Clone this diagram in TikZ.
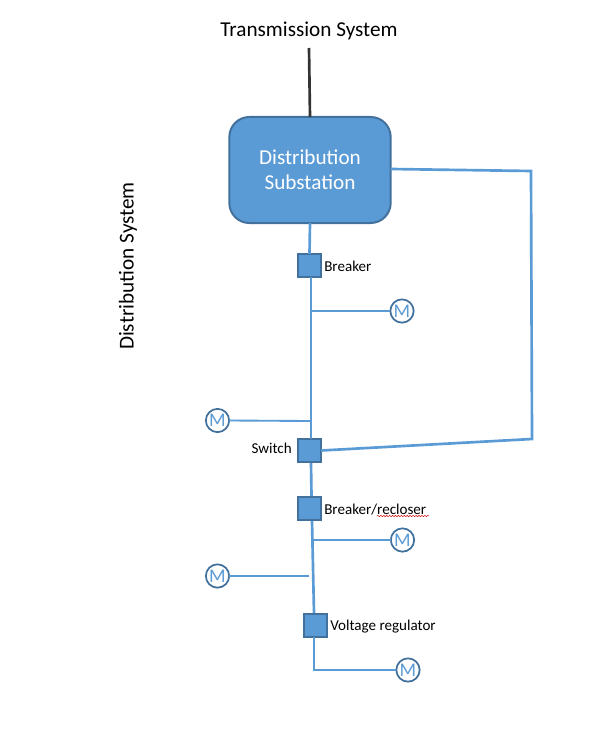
\documentclass[tikz,border=0pt]{standalone}
\usepackage{fontspec}
\setmainfont{Carlito}
\usetikzlibrary{decorations.pathmorphing}
\definecolor{blfill}{HTML}{5B9BD5}
\definecolor{bledge}{HTML}{41719C}
\tikzset{
  x=0.75pt,y=-0.75pt,
  feeder/.style={draw=blfill,line width=2pt},
  tap/.style={draw=blfill,line width=1.4pt},
  devbox/.style={draw=bledge,fill=blfill,line width=1.4pt,minimum size=17.5pt,inner sep=0pt,outer sep=0pt},
  meter/.style={circle,draw=bledge,fill=white,line width=1.3pt,minimum size=17.5pt,inner sep=0pt,outer sep=0pt,text=blfill,font=\fontsize{14.5}{14.5}\selectfont},
  devlabel/.style={inner sep=0pt,text=black,font=\fontsize{11.3}{13}\selectfont},
  biglabel/.style={inner sep=0pt,text=black,font=\fontsize{15.9}{19}\selectfont},
}
\begin{document}
\begin{tikzpicture}
\useasboundingbox (0,0) rectangle (593,731);
\node[biglabel] (ts) at (309,31) {Transmission System};
\node[biglabel,rotate=90] (ds) at (128,266) {Distribution System};
\coordinate (top) at (309,48);
\node[draw=bledge,fill=blfill,line width=1.5pt,rounded corners=15pt,minimum width=121pt,minimum height=79.5pt,inner sep=0pt,outer sep=0pt,align=center,text=white,font=\fontsize{15.9}{18.7}\selectfont] (sub) at (310,170) {\raisebox{-1pt}{Distribution}\\\raisebox{-1pt}{Substation}};
\node[devbox] (brk) at (309.5,265.5) {};
\node[devbox] (sw) at (309.5,450.5) {};
\node[devbox] (rec) at (309.5,508.5) {};
\node[devbox] (vr) at (315.5,625.5) {};
\coordinate (j1) at (311,311);
\coordinate (j2) at (310,421);
\coordinate (j3) at (311,540);
\coordinate (j4) at (309,576);
\coordinate (j5) at (314,670);
\coordinate (c1) at (531,171);
\coordinate (c2) at (532,439);
\coordinate (w1) at (377,516);
\coordinate (w2) at (429,516);
\node[meter] (m1) at (402,311) {M};
\node[meter] (m2) at (217.5,420.5) {M};
\node[meter] (m3) at (402.5,540) {M};
\node[meter] (m4) at (217.5,576) {M};
\node[meter] (m5) at (408,670) {M};
\node[devlabel,anchor=west] (lbrk) at (324,266.5) {Breaker};
\node[devlabel,anchor=east] (lsw) at (292,448.5) {Switch};
\node[devlabel,anchor=west] (lrec) at (324,509.5) {Breaker/recloser};
\node[devlabel,anchor=west] (lvr) at (330,626.5) {Voltage regulator};
\draw[draw=black!80,line width=2pt] (top) -- (sub.north);
\draw[feeder] (sub.south) -- (brk.north);
\draw[feeder] (brk.south -| j1) -- (sw.north -| j1);
\draw[feeder] (311,463) -- (311.5,496);
\draw[feeder] (312,521) -- (314,613);
\draw[feeder] (vr.south -| j5) -- (j5) -- (m5.west);
\draw[feeder,line join=miter] (sub.east |- 0,169) -- (c1) -- (c2) -- (sw.east);
\draw[tap] (j1) -- (m1.west);
\draw[tap] (j2) -- (m2.east);
\draw[tap] (j3) -- (m3.west);
\draw[tap] (j4) -- (m4.east);
\draw[red!80!black,line width=0.35pt,decorate,decoration={snake,amplitude=0.5pt,segment length=2.2pt}] (w1) -- (w2);
\end{tikzpicture}
\end{document}
